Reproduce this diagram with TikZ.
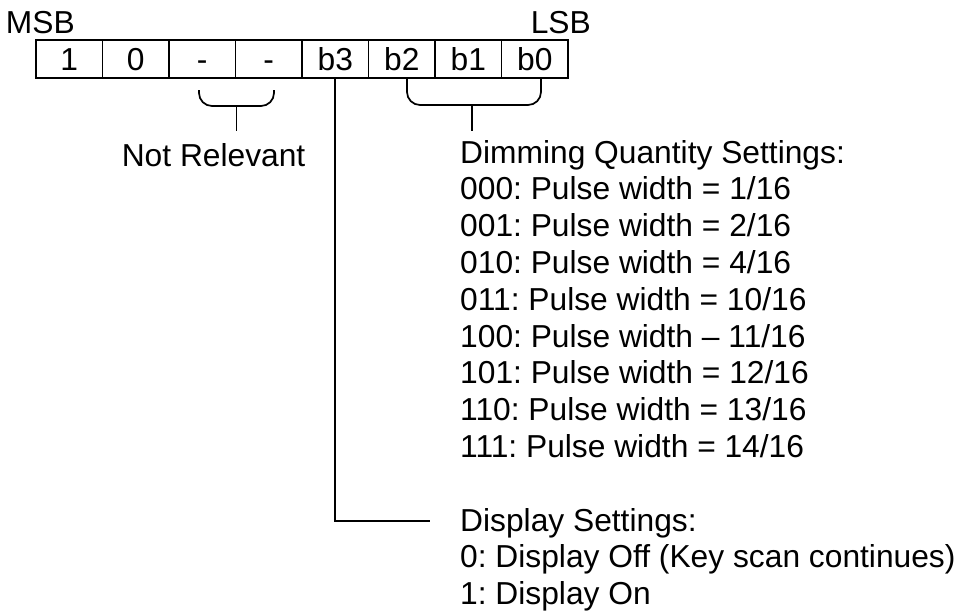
\documentclass[tikz,border=0pt]{standalone}
\usepackage{fontspec}
\setmainfont{Liberation Sans}
\frenchspacing
\begin{document}
\begin{tikzpicture}[x=1pt,y=-1pt,
  txt/.style={inner sep=0pt,font=\fontsize{31.75pt}{36.8pt}\selectfont\frenchspacing,anchor=base west},
  cell/.style={draw,line width=1.7pt,minimum width=66.5pt,minimum height=38pt,inner sep=0pt,
    text height=22.7pt,text depth=0pt,font=\fontsize{31.75pt}{36.8pt}\selectfont},
  wire/.style={line width=1.7pt},
  brace/.style={line width=1.7pt,rounded corners=13pt}]
\useasboundingbox (0,0) rectangle (963,610);
% labels
\node[txt] (msb) at (5.7,34) {MSB};
\node[txt,anchor=base east] (lsb) at (591,34) {LSB};
% register cells
\foreach \t [count=\i from 0] in {1,0,-,-,b3,b2,b1,b0}{
  \node[cell] (c\i) at ({36+66.5*(\i+0.5)},59) {\t};
}
% not relevant brace
\coordinate (nrl) at (199,90);
\coordinate (nrr) at (274,90);
\coordinate (nrm) at (236.5,106);
\coordinate (nrs) at (236.5,131);
\draw[brace] (nrl) -- (199,106) -- (274,106) -- (nrr);
\draw[wire] (nrm) -- (nrs);
\node[txt] (nr) at (121.6,166) {Not Relevant};
% dimming brace
\coordinate (dml) at (407,78);
\coordinate (dmr) at (541,78);
\coordinate (dmm) at (472,105);
\coordinate (dms) at (472,131);
\draw[brace] (dml) -- (407,105) -- (541,105) -- (dmr);
\draw[wire] (dmm) -- (dms);
% dimming text
\node[txt] (dim0) at (460,163) {Dimming Quantity Settings:};
\node[txt] (dim1) at (460,199.8) {000: Pulse width = 1/16};
\node[txt] (dim2) at (460,236.6) {001: Pulse width = 2/16};
\node[txt] (dim3) at (460,273.4) {010: Pulse width = 4/16};
\node[txt] (dim4) at (460,310.2) {011: Pulse width = 10/16};
\node[txt] (dim5) at (460,347.0) {100: Pulse width -- 11/16};
\node[txt] (dim6) at (460,383.8) {101: Pulse width = 12/16};
\node[txt] (dim7) at (460,420.6) {110: Pulse width = 13/16};
\node[txt] (dim8) at (460,457.4) {111: Pulse width = 14/16};
% display settings
\coordinate (dsp) at (430,521);
\draw[wire] (c4.south) |- (dsp);
\node[txt] (ds0) at (460,531) {Display Settings:};
\node[txt] (ds1) at (460,567.8) {0: Display Off (Key scan continues)};
\node[txt] (ds2) at (460,604.6) {1: Display On};
\end{tikzpicture}
\end{document}
